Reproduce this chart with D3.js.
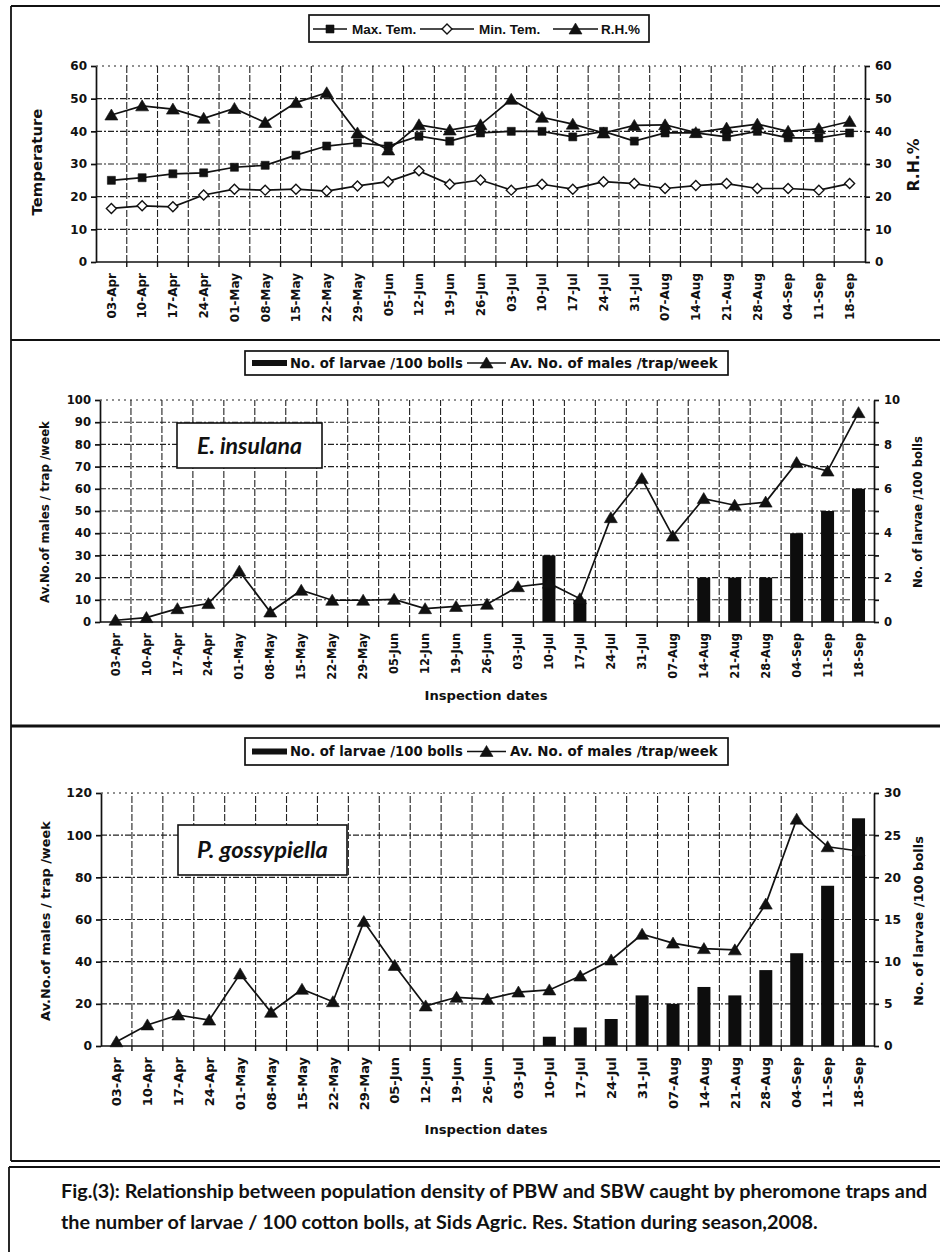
<!DOCTYPE html>
<html><head><meta charset="utf-8">
<script src="https://cdn.jsdelivr.net/npm/d3@7"></script>
<style>
body{margin:0;background:#fff}
svg{display:block}
text{font-family:"DejaVu Sans","Liberation Sans",Arial,sans-serif;font-weight:bold;fill:#111}
</style>
</head><body>
<svg id="c" width="940" height="1252"></svg>
<script>
// ---------- DATA ----------
const dates = ["03-Apr","10-Apr","17-Apr","24-Apr","01-May","08-May","15-May","22-May","29-May","05-Jun","12-Jun","19-Jun","26-Jun","03-Jul","10-Jul","17-Jul","24-Jul","31-Jul","07-Aug","14-Aug","21-Aug","28-Aug","04-Sep","11-Sep","18-Sep"];

// Panel 1: weather
const maxTem = [25,25.8,27,27.3,29,29.6,32.7,35.5,36.5,35.5,38.5,37,39.5,40,40,38.3,40,37,39.5,39.5,38.3,40,38,38,39.5];
const minTem = [16.4,17.2,16.9,20.5,22.3,22,22.3,21.7,23.3,24.6,27.9,23.8,25.1,22,23.8,22.3,24.6,24,22.5,23.4,24,22.5,22.5,22,24];
const rh     = [45,47.8,46.8,44,47,42.7,48.8,51.8,39.5,34.3,42,40.4,42,49.8,44.3,42.2,39.5,41.8,42,39.6,41,42.2,40,40.8,43];
const tempTicks = [0,10,20,30,40,50,60];
const rhTicks = [0,10,20,30,40,50,60];

// Panel 2: E. insulana
const eiMales  = [0.8,2,6,8.3,22.9,4.5,14.3,9.8,9.8,10.2,6,7,8,15.9,17.5,10.5,47,64.6,38.7,55.6,52.6,54,71.8,68,94.3];
const eiLarvae = [0,0,0,0,0,0,0,0,0,0,0,0,0,0,3,1,0,0,0,2,2,2,4,5,6];
const eiMaleTicks  = [0,10,20,30,40,50,60,70,80,90,100];
const eiLarvaTicks = [0,1,2,3,4,5,6,7,8,9,10];

// Panel 3: P. gossypiella
const pgMales  = [2,10,14.7,12.3,34.2,16,26.9,21,59,38.2,19,23.1,22.2,25.6,26.6,33.2,40.8,53,48.8,46.2,45.6,67.3,107.6,94.5,92.5];
const pgLarvae = [0,0,0,0,0,0,0,0,0,0,0,0,0,0,1.1,2.2,3.2,6,5,7,6,9,11,19,27];
const pgMaleTicks  = [0,20,40,60,80,100,120];
const pgLarvaTicks = [0,5,10,15,20,25,30];

// ---------- DRAW ----------
const svg = d3.select("#c");
svg.append("rect").attr("width",940).attr("height",1252).attr("fill","#fff");

function fit(sel, w){
  const cur = parseFloat(sel.style("font-size"));
  const len = sel.node().getComputedTextLength();
  if (len > 0) sel.style("font-size", (cur * w / len) + "px");
  return sel;
}

const sym = {
  square: "M-4,-4H4V4H-4Z",
  diamond: "M0,-5L5,0L0,5L-5,0Z",
  triangle: "M0,-6L6.5,5L-6.5,5Z"
};

function panel(o){
  const g = svg.append("g");
  const x = d3.scaleBand().domain(dates).range(o.xr);
  const yL = d3.scaleLinear().domain([o.lt[0], o.lt[o.lt.length-1]]).range(o.yr);
  const yR = d3.scaleLinear().domain([o.rt[0], o.rt[o.rt.length-1]]).range(o.yr);
  const cx = d => x(d) + x.bandwidth()/2;

  // horizontal grid
  g.append("g").selectAll("line").data(o.lt.slice(1)).join("line")
    .attr("x1", o.xr[0]).attr("x2", o.xr[1])
    .attr("y1", d => yL(d)).attr("y2", d => yL(d))
    .attr("stroke", "#222").attr("stroke-width", 1.1)
    .attr("stroke-dasharray", (d,i,a) => i === a.length-1 ? "2,4" : "6,2,2,2");
  // vertical grid at band boundaries
  g.append("g").selectAll("line").data(dates.slice(1)).join("line")
    .attr("x1", d => x(d)).attr("x2", d => x(d))
    .attr("y1", o.yr[0]).attr("y2", o.yr[1])
    .attr("stroke", "#222").attr("stroke-width", 1.1)
    .attr("stroke-dasharray", "7,2");

  // annotation box
  if (o.note){
    g.append("rect").attr("x", o.note.x).attr("y", o.note.y).attr("width", o.note.w).attr("height", o.note.h)
      .attr("fill", "#fff").attr("stroke", "#111").attr("stroke-width", 1.6);
    const t = g.append("text").attr("x", o.note.x + o.note.w/2).attr("y", o.note.y + o.note.h/2)
      .attr("dy", "0.35em").attr("text-anchor", "middle")
      .style("font-family", "Lato, 'Open Sans', sans-serif").style("font-style", "italic")
      .style("font-size", "20px").text(o.note.t);
    fit(t, o.note.tw);
  }

  // bars
  if (o.bars){
    g.append("g").selectAll("rect").data(o.bars).join("rect")
      .attr("x", (d,i) => cx(dates[i]) - 6.5).attr("width", 13)
      .attr("y", d => yR(d)).attr("height", d => yR(0) - yR(d))
      .attr("fill", "#0d0d0d");
  }

  // lines
  o.series.forEach(s => {
    const yS = s.right ? yR : yL;
    g.append("path").datum(s.v)
      .attr("d", d3.line().x((d,i) => cx(dates[i])).y(d => yS(d)))
      .attr("fill", "none").attr("stroke", "#111").attr("stroke-width", 1.7);
    g.append("g").selectAll("path").data(s.v).join("path")
      .attr("d", sym[s.m])
      .attr("transform", (d,i) => `translate(${cx(dates[i])},${yS(d)})`)
      .attr("fill", s.m === "diamond" ? "#fff" : "#111")
      .attr("stroke", "#111").attr("stroke-width", s.m === "diamond" ? 1.4 : 0.6);
  });

  // left axis
  const la = g.append("g").attr("transform", `translate(${o.xr[0]},0)`)
    .call(d3.axisLeft(yL).tickValues(o.lt).tickSize(5).tickSizeOuter(0).tickPadding(4));
  // right axis
  const ra = g.append("g").attr("transform", `translate(${o.xr[1]},0)`)
    .call(d3.axisRight(yR).tickValues(o.rt).tickSize(5).tickSizeOuter(0).tickPadding(5)
      .tickFormat(o.rfmt || (d => d)));
  [la, ra].forEach(a => {
    a.selectAll("path,line").attr("stroke", "#111").attr("stroke-width", 1.7);
    a.selectAll("text").style("font-size", o.yfs + "px").attr("fill", "#111")
      .style("font-family", "'DejaVu Sans', sans-serif").style("font-weight", "bold");
  });

  // bottom axis
  const bx = g.append("g").attr("transform", `translate(0,${o.yr[0]})`);
  bx.append("line").attr("x1", o.xr[0]).attr("x2", o.xr[1]).attr("stroke", "#111").attr("stroke-width", 1.7);
  bx.selectAll(".bt").data(dates.slice(1)).join("line")
    .attr("x1", d => x(d)).attr("x2", d => x(d)).attr("y1", 0).attr("y2", 5)
    .attr("stroke", "#111").attr("stroke-width", 1.4);
  bx.selectAll("text").data(dates).join("text")
    .attr("transform", d => `translate(${cx(d)},11) rotate(-90)`)
    .attr("text-anchor", "end").attr("dy", "0.36em")
    .style("font-size", o.xfs + "px").text(d => d);

  // axis titles
  o.titles.forEach(t => {
    const el = svg.append("text").attr("transform", `translate(${t.x},${t.y}) rotate(${t.r || 0})`)
      .attr("text-anchor", "middle").attr("dy", "0.35em")
      .style("font-size", "13px").text(t.t);
    fit(el, t.w);
  });
  return g;
}

// ---- Panel 1
panel({
  xr: [96, 865], yr: [262, 66], lt: tempTicks, rt: rhTicks, yfs: 12, xfs: 12,
  series: [{v: maxTem, m: "square"}, {v: minTem, m: "diamond"}, {v: rh, m: "triangle"}],
  titles: [
    {t: "Temperature", x: 37, y: 162, r: -90, w: 107},
    {t: "R.H.%", x: 914, y: 165, r: -90, w: 53}
  ]
});

// ---- Panel 2
panel({
  xr: [100, 874], yr: [622, 400], lt: eiMaleTicks, rt: eiLarvaTicks, yfs: 11.6, xfs: 11.4,
  rfmt: d => (d % 2 === 0 ? d : ""),
  bars: eiLarvae,
  series: [{v: eiMales, m: "triangle"}],
  note: {x: 177, y: 423, w: 145, h: 45, t: "E. insulana", tw: 105},
  titles: [
    {t: "Av.No.of males / trap /week", x: 45, y: 512, r: -90, w: 182},
    {t: "No. of larvae /100 bolls", x: 918, y: 512, r: -90, w: 152},
    {t: "Inspection dates", x: 486, y: 695, w: 123}
  ]
});

// ---- Panel 3
panel({
  xr: [101, 874], yr: [1046, 793], lt: pgMaleTicks, rt: pgLarvaTicks, yfs: 12.3, xfs: 13,
  bars: pgLarvae,
  series: [{v: pgMales, m: "triangle"}],
  note: {x: 178, y: 825, w: 169, h: 50, t: "P. gossypiella", tw: 131},
  titles: [
    {t: "Av.No.of males / trap /week", x: 45, y: 921, r: -90, w: 200},
    {t: "No. of larvae /100 bolls", x: 918, y: 921, r: -90, w: 170},
    {t: "Inspection dates", x: 486, y: 1129, w: 123}
  ]
});

// ---- Legends
function legendBox(x, y, w, h){
  svg.append("rect").attr("x", x).attr("y", y).attr("width", w).attr("height", h)
    .attr("fill", "#fff").attr("stroke", "#111").attr("stroke-width", 1.7);
}
function legLine(x1, x2, y, m){
  svg.append("line").attr("x1", x1).attr("x2", x2).attr("y1", y).attr("y2", y).attr("stroke", "#111").attr("stroke-width", 1.7);
  svg.append("path").attr("d", sym[m]).attr("transform", `translate(${(x1+x2)/2},${y})`)
    .attr("fill", m === "diamond" ? "#fff" : "#111").attr("stroke", "#111").attr("stroke-width", m === "diamond" ? 1.4 : 0.6);
}
function legText(x, y, t, w){
  const el = svg.append("text").attr("x", x).attr("y", y).attr("dy", "0.36em").style("font-size", "13px").text(t);
  fit(el, w);
}
function legTextFixed(x, y, t){
  svg.append("text").attr("x", x).attr("y", y).attr("dy", "0.36em")
    .style("font-family", "'Liberation Sans', Arial, sans-serif").style("font-size", "13.5px").text(t);
}
const topLegend = ["Max. Tem.", "Min. Tem.", "R.H.%"];
legendBox(309, 15, 340, 27);
legLine(313, 347, 29, "square");  legTextFixed(352, 29, topLegend[0]);
legLine(420, 474, 29, "diamond"); legTextFixed(479, 29, topLegend[1]);
legLine(553, 598, 29, "triangle");legTextFixed(601, 29, topLegend[2]);

const pestLegend = ["No. of larvae /100 bolls", "Av. No. of males /trap/week"];
[[351, 24], [738, 27]].forEach(([y, h]) => {
  const cy = y + h/2;
  legendBox(245, y, 483, h);
  svg.append("rect").attr("x", 252).attr("y", cy - 3).attr("width", 35).attr("height", 6).attr("fill", "#111");
  legText(290, cy, pestLegend[0], 173);
  legLine(467, 506, cy, "triangle");
  legText(510, cy, pestLegend[1], 208);
});

// ---- Frames
function ln(x1, y1, x2, y2, w){
  svg.append("line").attr("x1", x1).attr("y1", y1).attr("x2", x2).attr("y2", y2).attr("stroke", "#111").attr("stroke-width", w);
}
ln(11, 6, 945, 6, 2);
ln(11, 6, 11, 1161, 1.8);
ln(11, 340, 945, 340, 2.2);
ln(11, 726, 945, 726, 3);
ln(11, 1161, 945, 1161, 2);
ln(9, 1167, 945, 1167, 2);
ln(9, 1167, 9, 1252, 1.8);

// ---- Caption
const caption = ["Fig.(3): Relationship between population density of PBW and SBW caught by pheromone traps and",
                 "the number of larvae / 100 cotton bolls, at Sids Agric. Res. Station during season,2008."];
const c1 = svg.append("text").attr("x", 61).attr("y", 1198)
  .style("font-family", "Lato, 'Open Sans', sans-serif").style("font-size", "20px").text(caption[0]);
fit(c1, 867);
svg.append("text").attr("x", 61).attr("y", 1229)
  .style("font-family", "Lato, 'Open Sans', sans-serif").style("font-size", c1.style("font-size")).text(caption[1]);
</script>
</body></html>
